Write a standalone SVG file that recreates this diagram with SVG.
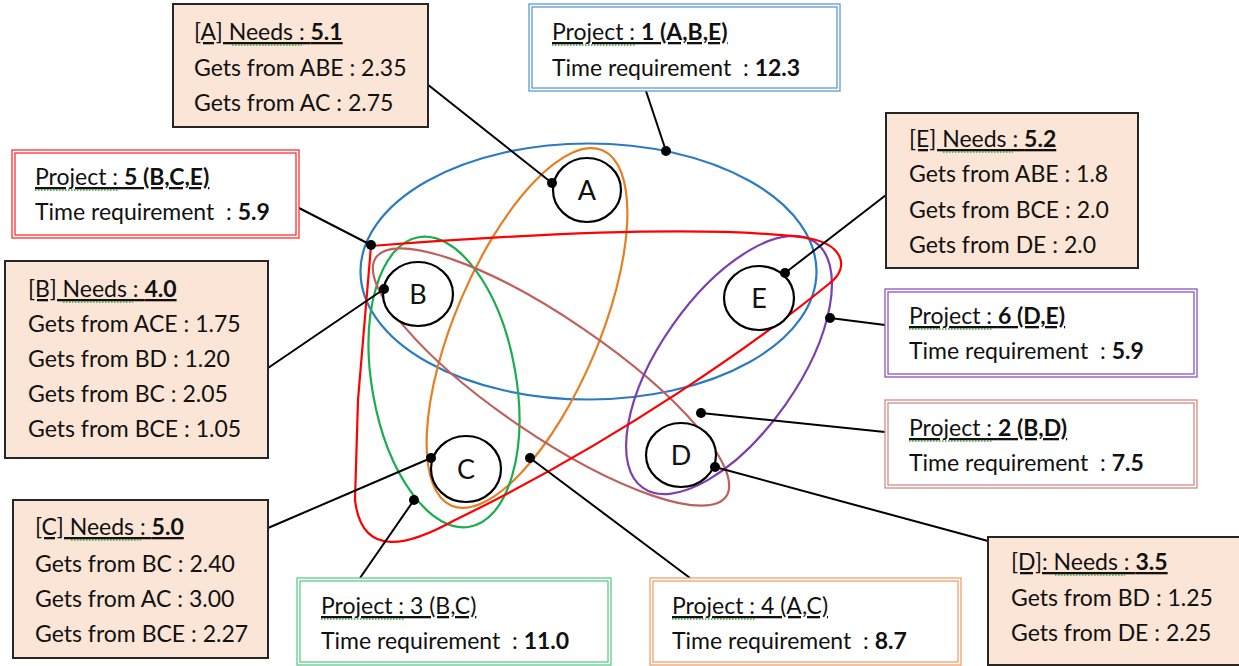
<svg xmlns="http://www.w3.org/2000/svg" width="1239" height="666" viewBox="0 0 1239 666">
  <style>
    .t { font-family: Lato, "Liberation Sans", sans-serif; font-size: 23px; fill: #111; white-space: pre; }
    .b { font-weight: bold; }
    .u { text-decoration: underline; }
    .need { fill: #FBE5D6; stroke: #262626; stroke-width: 2; }
    .proj { fill: #ffffff; }
    .sq { stroke: #3a9a3a; stroke-width: 1.4; stroke-dasharray: 1.5 1.5; fill: none; }
    .node { fill: #ffffff; stroke: #000; stroke-width: 2.2; }
    .lbl { font-family: Lato, "Liberation Sans", sans-serif; font-size: 27px; fill: #111; text-anchor: middle; }
    .set { fill: none; stroke-width: 2.2; }
    .conn line { stroke: #000; stroke-width: 2; }
    .conn circle { fill: #000; }
  </style>

  <!-- project sets -->
  <g id="sets">
    <ellipse id="set1" class="set" stroke="#2B7BC4" cx="588.5" cy="271.5" rx="228" ry="128"/>
    <ellipse id="set4" class="set" stroke="#E67E22" cx="527" cy="328" rx="193" ry="72" transform="rotate(-67 527 328)"/>
    <ellipse id="set3" class="set" stroke="#1AAE4F" cx="444" cy="382" rx="147" ry="72" transform="rotate(80 444 382)"/>
    <ellipse id="set2" class="set" stroke="#C0605D" cx="551" cy="377" rx="212" ry="58" transform="rotate(34.3 551 377)"/>
    <ellipse id="set6" class="set" stroke="#7B3FB0" cx="729" cy="365" rx="150" ry="69" transform="rotate(-55 729 365)"/>
    <path id="set5" class="set" stroke="#FF0000" d="M371,246 C500,236 690,224 800,237 C845,242 850,268 830,283 C760,340 620,440 455,520 C410,545 362,560 355,500 L358,400 Z"/>
  </g>

  <!-- member nodes -->
  <g id="node-A"><ellipse class="node" cx="587" cy="190" rx="34" ry="32"/><text class="lbl" x="587" y="200">A</text></g>
  <g id="node-B"><ellipse class="node" cx="418" cy="294" rx="35" ry="32"/><text class="lbl" x="418" y="304">B</text></g>
  <g id="node-C"><ellipse class="node" cx="466" cy="469" rx="35" ry="33"/><text class="lbl" x="466" y="479">C</text></g>
  <g id="node-D"><ellipse class="node" cx="681" cy="455" rx="35" ry="32"/><text class="lbl" x="681" y="465">D</text></g>
  <g id="node-E"><ellipse class="node" cx="759" cy="298" rx="35" ry="32"/><text class="lbl" x="759" y="308">E</text></g>

  <!-- connectors -->
  <g id="connectors" class="conn">
    <line x1="427" y1="84" x2="552" y2="183"/><circle cx="552" cy="183" r="5"/>
    <line x1="646" y1="91" x2="666" y2="151"/><circle cx="666" cy="151" r="5"/>
    <line x1="299" y1="208" x2="371" y2="245"/><circle cx="371" cy="245" r="5"/>
    <line x1="268" y1="368" x2="384" y2="289"/><circle cx="384" cy="289" r="5"/>
    <line x1="886" y1="195" x2="785" y2="273"/><circle cx="785" cy="273" r="5"/>
    <line x1="885" y1="325" x2="830" y2="318"/><circle cx="830" cy="318" r="5"/>
    <line x1="885" y1="432" x2="701" y2="413"/><circle cx="701" cy="413" r="5"/>
    <line x1="988" y1="541" x2="715" y2="467"/><circle cx="715" cy="467" r="5"/>
    <line x1="268" y1="528" x2="431" y2="458"/><circle cx="431" cy="458" r="5"/>
    <line x1="360" y1="578" x2="414" y2="500"/><circle cx="414" cy="500" r="5"/>
    <line x1="690" y1="578" x2="530" y2="458"/><circle cx="530" cy="458" r="5"/>
  </g>

  <!-- needs boxes -->
  <g id="needs-A">
    <rect class="need" x="173" y="4" width="255" height="123"/>
    <text class="t u" x="194" y="40">[A] Needs : <tspan class="b">5.1</tspan></text>
    <line class="sq" x1="232" y1="45" x2="302" y2="45"/>
    <text class="t" x="194" y="76">Gets from ABE : 2.35</text>
    <text class="t" x="194" y="111">Gets from AC : 2.75</text>
  </g>
  <g id="needs-B">
    <rect class="need" x="5" y="261" width="263" height="197"/>
    <text class="t u" x="28" y="297">[B] Needs : <tspan class="b">4.0</tspan></text>
    <line class="sq" x1="63" y1="302" x2="133" y2="302"/>
    <text class="t" x="28" y="332">Gets from ACE : 1.75</text>
    <text class="t" x="28" y="367">Gets from BD : 1.20</text>
    <text class="t" x="28" y="402">Gets from BC : 2.05</text>
    <text class="t" x="28" y="437">Gets from BCE : 1.05</text>
  </g>
  <g id="needs-C">
    <rect class="need" x="13" y="500" width="255" height="158"/>
    <text class="t u" x="35" y="535">[C] Needs : <tspan class="b">5.0</tspan></text>
    <line class="sq" x1="71" y1="540" x2="141" y2="540"/>
    <text class="t" x="35" y="572">Gets from BC : 2.40</text>
    <text class="t" x="35" y="607">Gets from AC : 3.00</text>
    <text class="t" x="35" y="642">Gets from BCE : 2.27</text>
  </g>
  <g id="needs-E">
    <rect class="need" x="886" y="113" width="252" height="155"/>
    <text class="t u" x="909" y="147">[E] Needs : <tspan class="b">5.2</tspan></text>
    <line class="sq" x1="943" y1="152" x2="1013" y2="152"/>
    <text class="t" x="909" y="182">Gets from ABE : 1.8</text>
    <text class="t" x="909" y="218">Gets from BCE : 2.0</text>
    <text class="t" x="909" y="253">Gets from DE : 2.0</text>
  </g>
  <g id="needs-D">
    <rect class="need" x="988" y="537" width="252" height="128"/>
    <text class="t u" x="1011" y="570">[D]: Needs : <tspan class="b">3.5</tspan></text>
    <line class="sq" x1="1055" y1="575" x2="1125" y2="575"/>
    <text class="t" x="1011" y="606">Gets from BD : 1.25</text>
    <text class="t" x="1011" y="641">Gets from DE : 2.25</text>
  </g>

  <!-- project boxes (double borders) -->
  <g id="project-1">
    <rect class="proj" x="529" y="4" width="311" height="87" stroke="#5B9BD5" stroke-width="1.3"/>
    <rect x="532" y="7" width="305" height="81" fill="none" stroke="#5B9BD5" stroke-width="1.3"/>
    <text class="t u" x="552" y="40">Project : <tspan class="b">1 (A,B,E)</tspan></text>
    <line class="sq" x1="552" y1="45" x2="635" y2="45"/>
    <text class="t" x="552" y="76">Time requirement  : <tspan class="b">12.3</tspan></text>
  </g>
  <g id="project-5">
    <rect class="proj" x="12" y="150" width="287" height="88" stroke="#FF3030" stroke-width="1.3"/>
    <rect x="15" y="153" width="281" height="82" fill="none" stroke="#FF3030" stroke-width="1.3"/>
    <text class="t u" x="35" y="185">Project : <tspan class="b">5 (B,C,E)</tspan></text>
    <line class="sq" x1="35" y1="190" x2="119" y2="190"/>
    <text class="t" x="35" y="220">Time requirement  : <tspan class="b">5.9</tspan></text>
  </g>
  <g id="project-6">
    <rect class="proj" x="885" y="289" width="312" height="88" stroke="#8A55C0" stroke-width="1.3"/>
    <rect x="888" y="292" width="306" height="82" fill="none" stroke="#8A55C0" stroke-width="1.3"/>
    <text class="t u" x="909" y="324">Project : <tspan class="b">6 (D,E)</tspan></text>
    <line class="sq" x1="909" y1="329" x2="992" y2="329"/>
    <text class="t" x="909" y="359">Time requirement  : <tspan class="b">5.9</tspan></text>
  </g>
  <g id="project-2">
    <rect class="proj" x="885" y="400" width="312" height="88" stroke="#D48A88" stroke-width="1.3"/>
    <rect x="888" y="403" width="306" height="82" fill="none" stroke="#D48A88" stroke-width="1.3"/>
    <text class="t u" x="909" y="436">Project : <tspan class="b">2 (B,D)</tspan></text>
    <line class="sq" x1="909" y1="441" x2="992" y2="441"/>
    <text class="t" x="909" y="471">Time requirement  : <tspan class="b">7.5</tspan></text>
  </g>
  <g id="project-3">
    <rect class="proj" x="297" y="578" width="314" height="87" stroke="#5FCB8A" stroke-width="1.3"/>
    <rect x="300" y="581" width="308" height="81" fill="none" stroke="#5FCB8A" stroke-width="1.3"/>
    <text class="t u" x="321" y="614">Project : 3 (B,C)</text>
    <line class="sq" x1="321" y1="619" x2="405" y2="619"/>
    <text class="t" x="321" y="649">Time requirement  : <tspan class="b">11.0</tspan></text>
  </g>
  <g id="project-4">
    <rect class="proj" x="650" y="578" width="311" height="87" stroke="#F0A06A" stroke-width="1.3"/>
    <rect x="653" y="581" width="305" height="81" fill="none" stroke="#F0A06A" stroke-width="1.3"/>
    <text class="t u" x="672" y="614">Project : 4 (A,C)</text>
    <line class="sq" x1="672" y1="619" x2="756" y2="619"/>
    <text class="t" x="672" y="649">Time requirement  : <tspan class="b">8.7</tspan></text>
  </g>
</svg>
